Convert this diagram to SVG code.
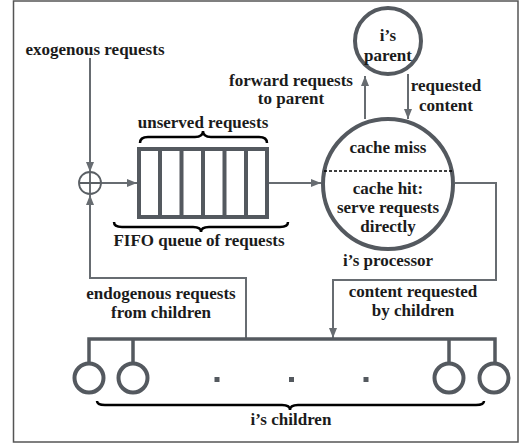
<svg xmlns="http://www.w3.org/2000/svg" width="525" height="445" viewBox="0 0 525 445">
<style>
text{font-family:"Liberation Serif","Times New Roman",serif;font-weight:bold;font-size:17px;fill:#1b1b1b;text-anchor:middle}
.c{fill:none;stroke:#676c71;stroke-width:2}
.n{fill:#fff;stroke:#54595f;stroke-width:4}
.br{fill:none;stroke:#000;stroke-width:2.5}
</style>
<defs>
<marker id="ah" markerUnits="userSpaceOnUse" markerWidth="10" markerHeight="10" viewBox="0 0 10 10" refX="10" refY="5" orient="auto">
<path d="M0,1 L10,5 L0,9 Z" fill="#676c71"/>
</marker>
</defs>
<rect x="13.5" y="1" width="504.5" height="441" fill="#fff" stroke="#555" stroke-width="1.5"/>

<g id="connectors">
<path class="c" d="M90,58 V172" marker-end="url(#ah)"/>
<path class="c" d="M246,339 V278 H90 V195" marker-end="url(#ah)"/>
<path class="c" d="M101,183 H137" marker-end="url(#ah)"/>
<path class="c" d="M268,183 H321" marker-end="url(#ah)"/>
<path class="c" d="M455,183 H496 V280 H333 V338" marker-end="url(#ah)"/>
<path class="c" d="M365,119 V76" marker-end="url(#ah)"/>
<path class="c" d="M408,74 V119" marker-end="url(#ah)"/>
</g>

<g id="exogenous-label"><text x="95" y="55">exogenous requests</text></g>

<g id="sum">
<circle cx="90" cy="183" r="11" fill="#fff" stroke="#5a5f64" stroke-width="1.8"/>
<path d="M80,183 H100 M90,173 V193" stroke="#5a5f64" stroke-width="1.8"/>
</g>

<g id="queue">
<text x="203" y="128">unserved requests</text>
<path class="br" d="M140,143 Q140,137 148,137 L195,137 Q203,137 203,131 Q203,137 211,137 L259,137 Q267,137 267,143"/>
<rect class="n" x="139" y="149" width="128" height="68"/>
<path d="M160,149 V217 M181.5,149 V217 M203,149 V217 M224.5,149 V217 M246,149 V217" stroke="#54595f" stroke-width="4"/>
<path class="br" d="M114,222 Q114,227 122,227 L193,227 Q201,227 201,232 Q201,227 209,227 L280,227 Q288,227 288,222"/>
<text x="199" y="246">FIFO queue of requests</text>
</g>

<g id="parent">
<circle class="n" cx="388" cy="41" r="33"/>
<text x="388" y="41">i’s</text>
<text x="388" y="61">parent</text>
</g>

<g id="edge-labels">
<text x="291" y="86">forward requests</text>
<text x="291" y="104">to parent</text>
<text x="446" y="91">requested</text>
<text x="446" y="111">content</text>
<text x="161" y="299">endogenous requests</text>
<text x="161" y="318">from children</text>
<text x="413" y="297">content requested</text>
<text x="413" y="316">by children</text>
</g>

<g id="processor">
<circle class="n" cx="388" cy="184" r="65"/>
<line x1="324" y1="171" x2="452" y2="171" stroke="#000" stroke-width="1.5" stroke-dasharray="3,2"/>
<text x="388" y="153">cache miss</text>
<text x="388" y="194">cache hit:</text>
<text x="388" y="213">serve requests</text>
<text x="388" y="232">directly</text>
<text x="388" y="266">i’s processor</text>
</g>

<g id="children">
<path d="M89,362 V339 H495 V362 M133,339 V362 M449,339 V362" fill="none" stroke="#54595f" stroke-width="3.5"/>
<circle class="n" cx="89" cy="378" r="14.5" stroke-width="3.5"/>
<circle class="n" cx="133" cy="378" r="14.5" stroke-width="3.5"/>
<circle class="n" cx="449" cy="378" r="14.5" stroke-width="3.5"/>
<circle class="n" cx="494" cy="378" r="14.5" stroke-width="3.5"/>
<rect x="214.5" y="377" width="5" height="5" fill="#54595f"/>
<rect x="289" y="377" width="5" height="5" fill="#54595f"/>
<rect x="363.5" y="377" width="5" height="5" fill="#54595f"/>
<path class="br" d="M97,401 Q97,405 105,405 L282,405 Q290,405 290,410 Q290,405 298,405 L476,405 Q484,405 484,401"/>
<text x="291" y="425">i’s children</text>
</g>
</svg>
